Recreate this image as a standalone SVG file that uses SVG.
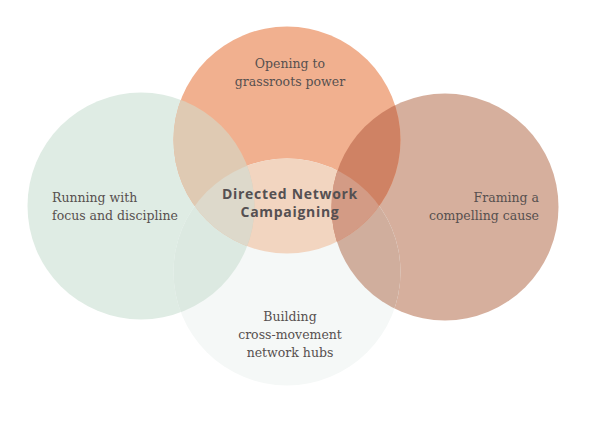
<svg xmlns="http://www.w3.org/2000/svg" width="592" height="427" viewBox="0 0 592 427">
  <style>
    .lbl { font-family: "DejaVu Serif", "Liberation Serif", serif; font-size: 12.5px; fill: #57504f; }
    .ctr { font-family: "Open Sans", "DejaVu Sans", sans-serif; font-size: 14px; font-weight: 700; fill: #555052; letter-spacing: 0.7px; }
  </style>
  <defs>
    <circle id="cTop" cx="287" cy="140" r="113.5"/>
    <circle id="cBot" cx="287" cy="272" r="113.5"/>
    <circle id="cLeft" cx="141" cy="206" r="113.5"/>
    <circle id="cRight" cx="445" cy="207" r="113.5"/>
    <clipPath id="clipTop"><use href="#cTop"/></clipPath>
    <clipPath id="clipBot"><use href="#cBot"/></clipPath>
    <clipPath id="clipLeft"><use href="#cLeft"/></clipPath>
    <clipPath id="clipRight"><use href="#cRight"/></clipPath>
  </defs>
  <rect width="592" height="427" fill="#ffffff"/>

  <g id="node-focus">
    <use href="#cLeft" fill="#dfece4"/>
    <text class="lbl" x="52" y="202">Running with</text>
    <text class="lbl" x="52" y="220">focus and discipline</text>
  </g>
  <g id="node-framing">
    <use href="#cRight" fill="#d6af9d"/>
    <text class="lbl" x="539" y="202" text-anchor="end">Framing a</text>
    <text class="lbl" x="539" y="220" text-anchor="end">compelling cause</text>
  </g>
  <g id="node-grassroots">
    <use href="#cTop" fill="#f1b08f"/>
    <text class="lbl" x="290" y="68" text-anchor="middle">Opening to</text>
    <text class="lbl" x="290" y="86" text-anchor="middle">grassroots power</text>
  </g>
  <g id="node-hubs">
    <use href="#cBot" fill="#f5f8f7"/>
    <text class="lbl" x="290" y="321" text-anchor="middle">Building</text>
    <text class="lbl" x="290" y="339" text-anchor="middle">cross-movement</text>
    <text class="lbl" x="290" y="357" text-anchor="middle">network hubs</text>
  </g>

  <g id="overlaps">
    <use href="#cLeft" fill="#dce9e1" clip-path="url(#clipBot)"/>
    <use href="#cRight" fill="#d0ae9d" clip-path="url(#clipBot)"/>
    <use href="#cTop" fill="#f2d5c0" clip-path="url(#clipBot)"/>
    <use href="#cTop" fill="#dfcab3" clip-path="url(#clipLeft)"/>
    <use href="#cTop" fill="#cf8264" clip-path="url(#clipRight)"/>
    <g clip-path="url(#clipBot)">
      <use href="#cTop" fill="#ddd9cb" clip-path="url(#clipLeft)"/>
      <use href="#cTop" fill="#d39b85" clip-path="url(#clipRight)"/>
    </g>
  </g>

  <g id="node-center">
    <text class="ctr" x="290" y="199" text-anchor="middle">Directed Network</text>
    <text class="ctr" x="290" y="217" text-anchor="middle">Campaigning</text>
  </g>
</svg>
